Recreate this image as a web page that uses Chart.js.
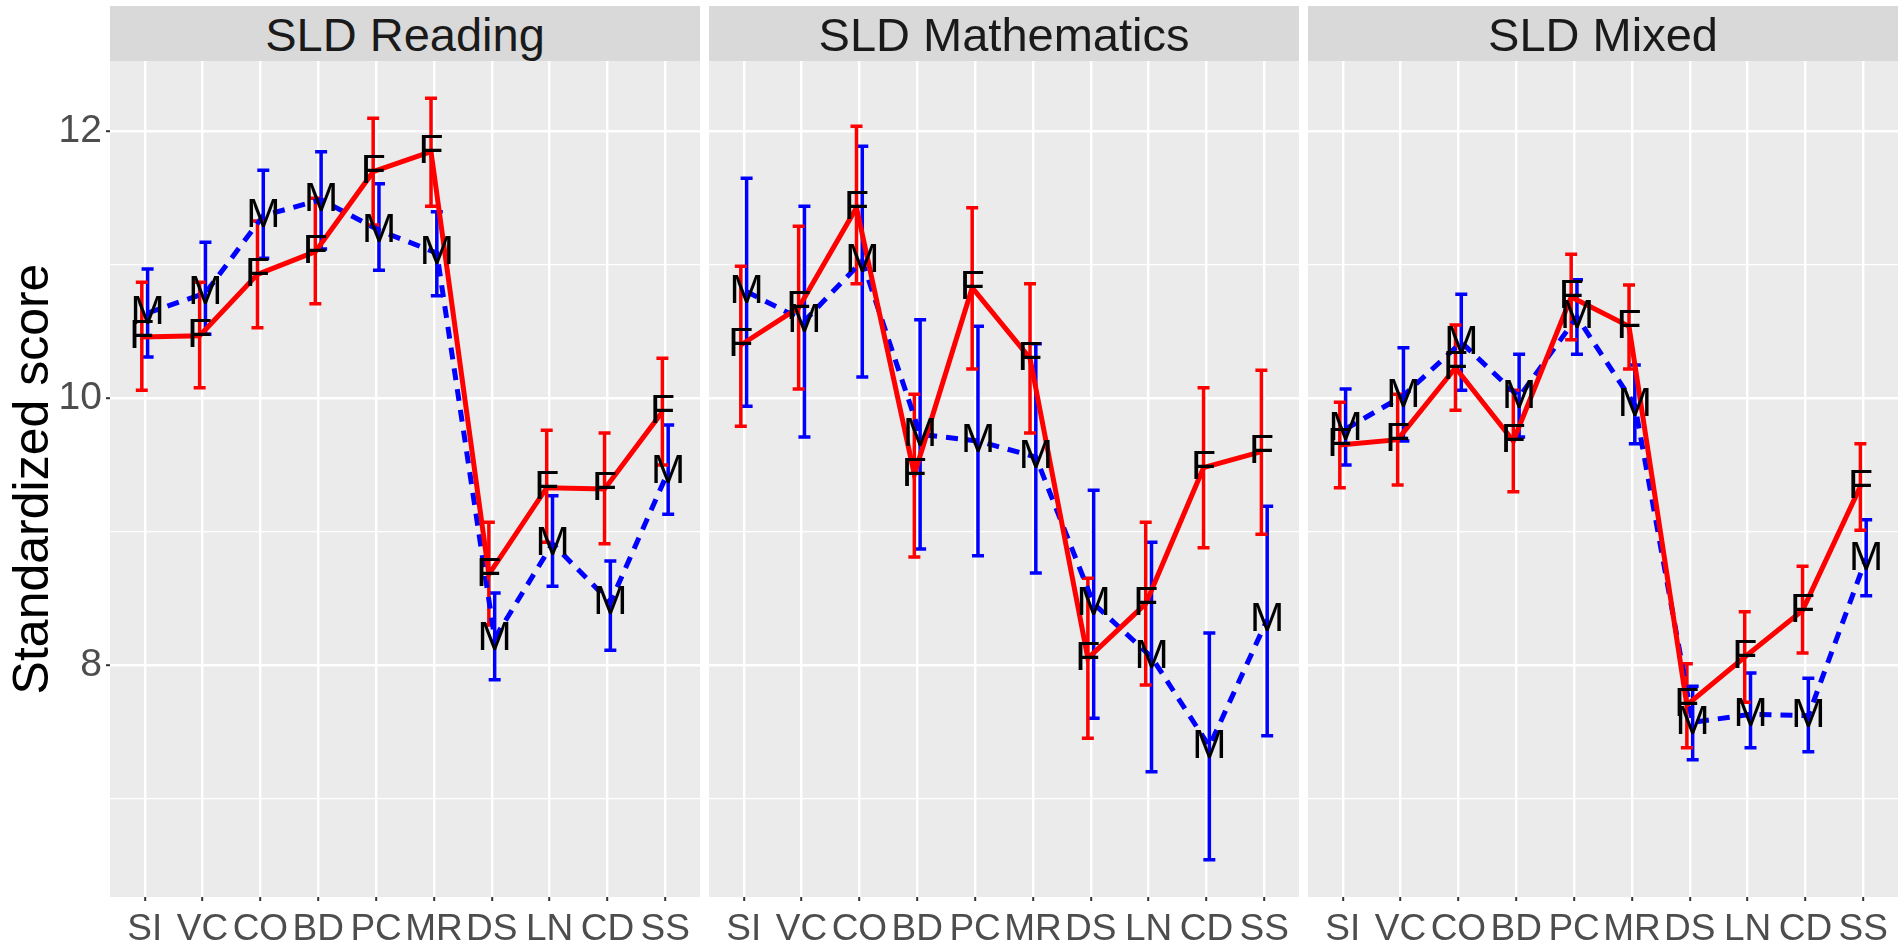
<!DOCTYPE html>
<html>
<head>
<meta charset="utf-8">
<script src="https://cdn.jsdelivr.net/npm/chart.js@4.4.1/dist/chart.umd.min.js"></script>
<style>
body { margin: 0; background: #fff; width: 1901px; height: 942px; overflow: hidden; position: relative; font-family: "Liberation Sans", Arial, sans-serif; }
canvas { position: absolute; top: 0; }
.strip { position: absolute; top: 6px; height: 55px; width: 590px; background: #D9D9D9; color: #1A1A1A; font-size: 47px; line-height: 57px; text-align: center; }
</style>
</head>
<body>
<canvas id="c1" width="700" height="942" style="left:0px"></canvas>
<canvas id="c2" width="590" height="942" style="left:709px"></canvas>
<canvas id="c3" width="590" height="942" style="left:1308px"></canvas>
<div class="strip" style="left:110px">SLD Reading</div>
<div class="strip" style="left:709px">SLD Mathematics</div>
<div class="strip" style="left:1308px">SLD Mixed</div>
<script>
var categories = ['SI', 'VC', 'CO', 'BD', 'PC', 'MR', 'DS', 'LN', 'CD', 'SS'];
var yGridValues = [7, 8, 9, 10, 11, 12];
var yTickLabels = [8, 10, 12];

// SLD Reading
var readingF     = [10.46, 10.47, 10.93, 11.10, 11.70, 11.85, 8.68, 9.33, 9.32, 9.90];
var readingFLow  = [10.06, 10.08, 10.53, 10.71, 11.30, 11.44, 8.30, 8.92, 8.91, 9.50];
var readingFHigh = [10.87, 10.87, 11.33, 11.50, 12.10, 12.25, 9.07, 9.76, 9.74, 10.30];
var readingM     = [10.64, 10.79, 11.37, 11.49, 11.26, 11.09, 8.20, 8.91, 8.47, 9.45];
var readingMLow  = [10.31, 10.48, 11.05, 11.12, 10.96, 10.77, 7.89, 8.59, 8.11, 9.13];
var readingMHigh = [10.97, 11.17, 11.71, 11.85, 11.61, 11.40, 8.54, 9.27, 8.78, 9.80];

// SLD Mathematics
var mathF     = [10.40, 10.68, 11.43, 9.43, 10.83, 10.30, 8.05, 8.46, 9.48, 9.60];
var mathFLow  = [9.79, 10.07, 10.86, 8.81, 10.22, 9.74, 7.45, 7.85, 8.88, 8.98];
var mathFHigh = [10.99, 11.29, 12.04, 10.03, 11.43, 10.86, 8.65, 9.07, 10.08, 10.21];
var mathM     = [10.80, 10.58, 11.03, 9.73, 9.68, 9.56, 8.46, 8.06, 7.39, 8.34];
var mathMLow  = [9.94, 9.71, 10.16, 8.87, 8.82, 8.69, 7.60, 7.20, 6.54, 7.47];
var mathMHigh = [11.65, 11.44, 11.89, 10.59, 10.54, 10.41, 9.31, 8.92, 8.24, 9.19];

// SLD Mixed
var mixedF     = [9.65, 9.69, 10.23, 9.68, 10.76, 10.54, 7.70, 8.06, 8.41, 9.34];
var mixedFLow  = [9.33, 9.35, 9.91, 9.30, 10.44, 10.22, 7.38, 7.72, 8.09, 9.01];
var mixedFHigh = [9.97, 10.03, 10.55, 10.06, 11.08, 10.85, 8.01, 8.40, 8.74, 9.66];
var mixedM     = [9.77, 10.02, 10.42, 10.01, 10.61, 9.95, 7.57, 7.63, 7.62, 8.80];
var mixedMLow  = [9.50, 9.68, 10.06, 9.71, 10.33, 9.66, 7.29, 7.38, 7.35, 8.52];
var mixedMHigh = [10.07, 10.38, 10.78, 10.33, 10.89, 10.25, 7.84, 7.94, 7.90, 9.09];

var dodge = 0.05;
var fontFamily = '"Liberation Sans", Arial, sans-serif';

var panelBg = {
    id: 'panelBg',
    beforeDraw: function (chart) {
        var a = chart.chartArea;
        var ctx = chart.ctx;
        ctx.save();
        ctx.fillStyle = '#EBEBEB';
        ctx.fillRect(a.left, a.top, a.right - a.left, a.bottom - a.top);
        ctx.restore();
    }
};

var errorBars = {
    id: 'errorBars',
    beforeDatasetsDraw: function (chart) {
        var ctx = chart.ctx;
        var xs = chart.scales.x, ys = chart.scales.y;
        ctx.save();
        chart.data.datasets.slice().reverse().forEach(function (ds) {
            ctx.strokeStyle = ds.borderColor;
            ctx.lineWidth = 3.5;
            ds.data.forEach(function (p, j) {
                var px = xs.getPixelForValue(p.x);
                var y1 = ys.getPixelForValue(ds.low[j]);
                var y2 = ys.getPixelForValue(ds.high[j]);
                ctx.beginPath();
                ctx.moveTo(px, y1); ctx.lineTo(px, y2);
                ctx.moveTo(px - 6, y1); ctx.lineTo(px + 6, y1);
                ctx.moveTo(px - 6, y2); ctx.lineTo(px + 6, y2);
                ctx.stroke();
            });
        });
        ctx.restore();
    }
};

var letters = {
    id: 'letters',
    afterDatasetsDraw: function (chart) {
        var ctx = chart.ctx;
        ctx.save();
        ctx.fillStyle = '#000';
        ctx.font = '41px ' + fontFamily;
        ctx.textAlign = 'center';
        ctx.textBaseline = 'middle';
        chart.data.datasets.forEach(function (ds, i) {
            chart.getDatasetMeta(i).data.forEach(function (pt) {
                ctx.fillText(ds.letter, pt.x, pt.y);
            });
        });
        ctx.restore();
    }
};

function makeChart(id, f, fLow, fHigh, m, mLow, mHigh, showY) {
    var ctx = document.getElementById(id).getContext('2d');
    return new Chart(ctx, {
        type: 'line',
        data: {
            datasets: [{
                label: 'F',
                letter: 'F',
                data: f.map(function (v, i) { return { x: i - dodge, y: v }; }),
                low: fLow,
                high: fHigh,
                borderColor: '#FF0000',
                borderWidth: 5,
                pointRadius: 0,
                tension: 0
            }, {
                label: 'M',
                letter: 'M',
                data: m.map(function (v, i) { return { x: i + dodge, y: v }; }),
                low: mLow,
                high: mHigh,
                borderColor: '#0000FF',
                borderWidth: 5,
                borderDash: [12, 9],
                pointRadius: 0,
                tension: 0
            }]
        },
        options: {
            responsive: false,
            animation: false,
            layout: { padding: { top: 61, left: 0, right: 0, bottom: 0 } },
            plugins: { legend: { display: false }, tooltip: { enabled: false } },
            scales: {
                x: {
                    type: 'linear',
                    min: -0.6,
                    max: 9.6,
                    afterBuildTicks: function (s) {
                        s.ticks = categories.map(function (c, i) { return { value: i }; });
                    },
                    afterFit: function (s) { s.height = 45; },
                    border: { display: false },
                    grid: { color: '#FFFFFF', lineWidth: 2.4, tickColor: '#333333', tickLength: 4, tickWidth: 2 },
                    ticks: {
                        padding: 10,
                        maxRotation: 0,
                        autoSkip: false,
                        color: '#4D4D4D',
                        font: { size: 37, family: fontFamily, lineHeight: 1 },
                        callback: function (v) { return categories[v]; }
                    }
                },
                y: {
                    min: 6.26,
                    max: 12.53,
                    afterBuildTicks: function (s) {
                        s.ticks = yGridValues.map(function (v) { return { value: v }; });
                    },
                    afterFit: function (s) { s.width = showY ? 110 : 0; },
                    border: { display: false },
                    grid: {
                        color: '#FFFFFF',
                        drawTicks: showY,
                        tickLength: 4,
                        lineWidth: function (c) { return yTickLabels.indexOf(c.tick.value) >= 0 ? 2.4 : 1.2; },
                        tickColor: function (c) { return yTickLabels.indexOf(c.tick.value) >= 0 ? '#333333' : 'rgba(0,0,0,0)'; },
                        tickWidth: 2
                    },
                    ticks: {
                        display: showY,
                        padding: 4,
                        color: '#4D4D4D',
                        font: { size: 39, family: fontFamily },
                        callback: function (v) { return yTickLabels.indexOf(v) >= 0 ? String(v) : ''; }
                    },
                    title: {
                        display: showY,
                        text: 'Standardized score',
                        color: '#000000',
                        padding: { top: 4, bottom: 0 },
                        font: { size: 50, family: fontFamily }
                    }
                }
            }
        },
        plugins: [panelBg, errorBars, letters]
    });
}

makeChart('c1', readingF, readingFLow, readingFHigh, readingM, readingMLow, readingMHigh, true);
makeChart('c2', mathF, mathFLow, mathFHigh, mathM, mathMLow, mathMHigh, false);
makeChart('c3', mixedF, mixedFLow, mixedFHigh, mixedM, mixedMLow, mixedMHigh, false);
</script>
</body>
</html>
